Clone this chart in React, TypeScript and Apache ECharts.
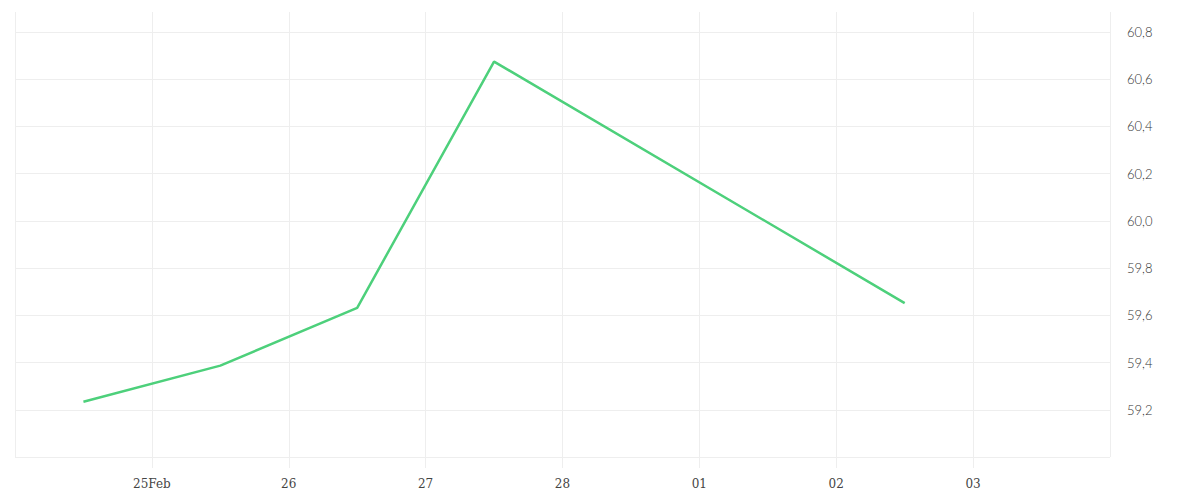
import React, { useEffect, useRef } from 'react'
import * as echarts from 'echarts'

const DAY = 86400000

// sample dates (UTC, midday) and values
const dates = ['2025-02-24T12:00:00Z', '2025-02-25T12:00:00Z', '2025-02-26T12:00:00Z', '2025-02-27T12:00:00Z', '2025-03-02T12:00:00Z']
const values = [59.234, 59.387, 59.632, 60.675, 59.652]

const xMin = Date.UTC(2025, 1, 24)
const xMax = Date.UTC(2025, 2, 4)
const yMin = 59.0
const yMax = 60.885
const yStep = 0.2

const MONTHS = ['Jan', 'Feb', 'Mar', 'Apr', 'May', 'Jun', 'Jul', 'Aug', 'Sep', 'Oct', 'Nov', 'Dec']

const App: React.FC = () => {
  const chartRef = useRef<HTMLDivElement>(null)

  useEffect(() => {
    if (!chartRef.current) return
    const chart = echarts.init(chartRef.current, undefined, { renderer: 'svg' })

    const seriesData = dates.map((d, i) => [new Date(d).getTime(), values[i]])
    const gridColor = '#eeeeee'
    // 10 ticks from 59.0 to 60.8, then the odd max tick which gets no line
    const yLineColors = Array.from({ length: 10 }, () => gridColor).concat(['rgba(0,0,0,0)'])

    chart.setOption({
      animation: false,
      backgroundColor: '#ffffff',
      grid: { left: 15, right: 90, top: 12, bottom: 43, containLabel: false },
      xAxis: {
        type: 'value',
        min: xMin,
        max: xMax,
        interval: DAY,
        axisLine: { show: false },
        axisTick: { show: true, length: 11, lineStyle: { color: gridColor } },
        splitLine: { show: true, lineStyle: { color: gridColor } },
        axisLabel: {
          showMinLabel: false,
          showMaxLabel: false,
          margin: 21,
          color: '#444444',
          fontFamily: 'DejaVu Serif',
          fontSize: 12,
          formatter: (v: number) => {
            const d = new Date(v)
            const day = String(d.getUTCDate()).padStart(2, '0')
            // month name only on the first label
            if (v === xMin + DAY) return day + MONTHS[d.getUTCMonth()]
            return day
          }
        }
      },
      yAxis: {
        type: 'value',
        position: 'right',
        min: yMin,
        max: yMax,
        interval: yStep,
        axisLine: { show: false },
        axisTick: { show: false },
        splitLine: { show: true, lineStyle: { color: yLineColors } },
        axisLabel: {
          showMinLabel: false,
          showMaxLabel: false,
          margin: 17,
          color: '#333333',
          fontFamily: 'Lato',
          fontWeight: 300,
          fontSize: 13,
          formatter: (v: number) => v.toFixed(1).replace('.', ',')
        }
      },
      series: [
        {
          type: 'line',
          data: seriesData,
          showSymbol: false,
          symbol: 'none',
          lineStyle: { color: '#4dd07b', width: 2.5 }
        }
      ]
    })

    return () => {
      chart.dispose()
    }
  }, [])

  return (
    <div
      ref={chartRef}
      style={{ position: 'absolute', left: 0, top: 0, width: '1200px', height: '500px' }}
    />
  )
}

export default App
